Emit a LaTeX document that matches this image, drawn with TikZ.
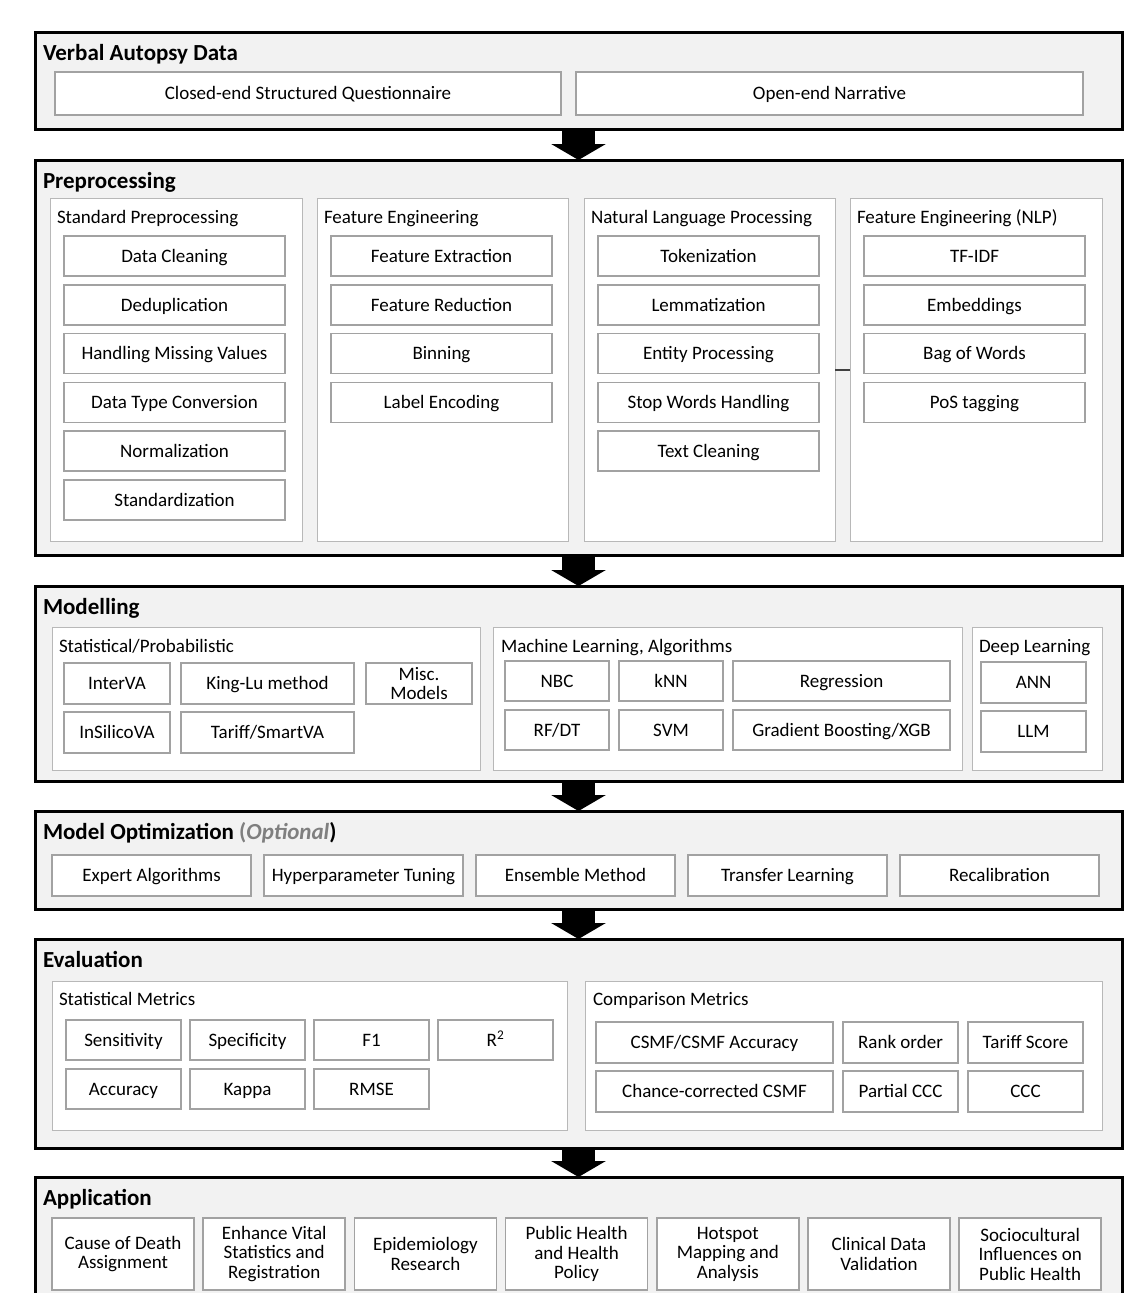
\documentclass[tikz,border=0pt]{standalone}
\usepackage{fontspec}
\setmainfont{Carlito}
\usetikzlibrary{arrows.meta}
\definecolor{stagefill}{HTML}{F2F2F2}
\definecolor{groupline}{HTML}{B8B8B8}
\definecolor{itemline}{HTML}{A2A2A2}
\definecolor{optgray}{HTML}{7F7F7F}
\definecolor{linkgray}{HTML}{404040}

\begin{document}
\begin{tikzpicture} [
  x=1pt, y=-1pt,
  every node/.style={inner sep=0pt, outer sep=0pt},
  stage/.style={draw=black, line width=3pt, fill=stagefill, anchor=north west, minimum width=1087pt},
  stagetitle/.style={anchor=base west, font=\fontsize{23}{24}\selectfont\bfseries},
  group/.style={draw=groupline, line width=1pt, fill=white, anchor=north west},
  grouptitle/.style={anchor=base west, font=\fontsize{19}{20}\selectfont},
  box/.style={draw=itemline, line width=1.5pt, fill=white, anchor=north west, align=center, font=\fontsize{19}{19.5}\selectfont},
  item/.style={box, text height=12.4pt, text depth=0pt},
  flow/.style={line width=33pt, -{Triangle[length=16pt,width=54pt]}}
  ]
  \fill[white] (0,0) rectangle (1127,1293);
  \useasboundingbox (0,0) rectangle (1127,1293);

  % stages
  \node (va)  [stage, minimum height=97pt]  at (35,32) {};
  \node (pre) [stage, minimum height=395pt] at (35,160) {};
  \node (mod) [stage, minimum height=195pt] at (35,586) {};
  \node (opt) [stage, minimum height=98pt]  at (35,811) {};
  \node (ev)  [stage, minimum height=209pt] at (35,939) {};
  \node (app) [stage, minimum height=133pt] at (35,1177) {};

  \node (va title)  [stagetitle] at ([shift={(8,28)}]va.north west) {Verbal Autopsy Data};
  \node (pre title) [stagetitle] at ([shift={(8,28)}]pre.north west) {Preprocessing};
  \node (mod title) [stagetitle] at ([shift={(8,28)}]mod.north west) {Modelling};
  \node (opt title) [stagetitle] at ([shift={(8,28)}]opt.north west) {Model Optimization \textcolor{optgray}{(\textit{Optional}})};
  \node (ev title)  [stagetitle] at ([shift={(8,28)}]ev.north west) {Evaluation};
  \node (app title) [stagetitle] at ([shift={(8,28)}]app.north west) {Application};

  \draw[flow] (va.south) -- (pre.north);
  \draw[flow] (pre.south) -- (mod.north);
  \draw[flow] (mod.south) -- (opt.north);
  \draw[flow] (opt.south) -- (ev.north);
  \draw[flow] (ev.south) -- (app.north);

  % verbal autopsy data
  \node (closed) [item, minimum width=506pt, minimum height=43pt] at (55,72) {Closed-end Structured Questionnaire};
  \node (open)   [item, minimum width=507pt, minimum height=43pt] at (576,72) {Open-end Narrative};

  % preprocessing
  \node (sp)  [group, minimum width=252pt, minimum height=343pt] at (50,198) {};
  \node (fe)  [group, minimum width=251pt, minimum height=343pt] at (317,198) {};
  \node (nlp) [group, minimum width=251pt, minimum height=343pt] at (584,198) {};
  \node (fen) [group, minimum width=252pt, minimum height=343pt] at (850,198) {};
  \node (sp title)  [grouptitle] at ([shift={(7,25)}]sp.north west) {Standard Preprocessing};
  \node (fe title)  [grouptitle] at ([shift={(7,25)}]fe.north west) {Feature Engineering};
  \node (nlp title) [grouptitle] at ([shift={(7,25)}]nlp.north west) {Natural Language Processing};
  \node (fen title) [grouptitle] at ([shift={(7,25)}]fen.north west) {Feature Engineering (NLP)};
  \draw[linkgray, line width=2pt] (nlp.east) -- (fen.west);

  \foreach \t [count=\i] in {Data Cleaning, Deduplication, Handling Missing Values,
      Data Type Conversion, Normalization, Standardization}
    \node (sp\i) [item, minimum width=221pt, minimum height=40pt] at (64,{236+48.8*(\i-1)}) {\t};
  \foreach \t [count=\i] in {Feature Extraction, Feature Reduction, Binning, Label Encoding}
    \node (fe\i) [item, minimum width=221pt, minimum height=40pt] at (331,{236+48.8*(\i-1)}) {\t};
  \foreach \t [count=\i] in {Tokenization, Lemmatization, Entity Processing,
      Stop Words Handling, Text Cleaning}
    \node (nlp\i) [item, minimum width=221pt, minimum height=40pt] at (598,{236+48.8*(\i-1)}) {\t};
  \foreach \t [count=\i] in {TF-IDF, Embeddings, Bag of Words, PoS tagging}
    \node (fen\i) [item, minimum width=221pt, minimum height=40pt] at (864,{236+48.8*(\i-1)}) {\t};

  % modelling
  \node (stat) [group, minimum width=428pt, minimum height=143pt] at (52,627) {};
  \node (ml)   [group, minimum width=469pt, minimum height=143pt] at (493,627) {};
  \node (dl)   [group, minimum width=130pt, minimum height=143pt] at (972,627) {};
  \node (stat title) [grouptitle] at ([shift={(7,25)}]stat.north west) {Statistical/Probabilistic};
  \node (ml title)   [grouptitle] at ([shift={(8,25)}]ml.north west) {Machine Learning, Algorithms};
  \node (dl title)   [grouptitle] at ([shift={(7,25)}]dl.north west) {Deep Learning};

  \node (interva)  [item, minimum width=106pt, minimum height=41pt] at (64,663) {InterVA};
  \node (kinglu)   [item, minimum width=173pt, minimum height=41pt] at (181,663) {King-Lu method};
  \node (misc)     [box, minimum width=106pt, minimum height=41pt] at (366,663) {Misc.\\Models};
  \node (insilico) [item, minimum width=106pt, minimum height=41pt] at (64,712) {InSilicoVA};
  \node (tariff)   [item, minimum width=173pt, minimum height=41pt] at (181,712) {Tariff/SmartVA};

  \node (nbc) [item, minimum width=104pt, minimum height=40pt] at (505,661) {NBC};
  \node (knn) [item, minimum width=104pt, minimum height=40pt] at (619,661) {kNN};
  \node (reg) [item, minimum width=217pt, minimum height=40pt] at (733,661) {Regression};
  \node (rf)  [item, minimum width=104pt, minimum height=40pt] at (505,710) {RF/DT};
  \node (svm) [item, minimum width=104pt, minimum height=40pt] at (619,710) {SVM};
  \node (xgb) [item, minimum width=217pt, minimum height=40pt] at (733,710) {Gradient Boosting/XGB};

  \node (ann) [item, minimum width=105pt, minimum height=41pt] at (981,662) {ANN};
  \node (llm) [item, minimum width=105pt, minimum height=41pt] at (981,711) {LLM};

  % model optimization
  \foreach \t [count=\i] in {Expert Algorithms, Hyperparameter Tuning, Ensemble Method,
      Transfer Learning, Recalibration}
    \node (opt\i) [item, minimum width=199pt, minimum height=41pt] at ({52+212*(\i-1)},855) {\t};

  % evaluation
  \node (sm) [group, minimum width=515pt, minimum height=149pt] at (52,981) {};
  \node (cm) [group, minimum width=517pt, minimum height=149pt] at (585,981) {};
  \node (sm title) [grouptitle] at ([shift={(7,24)}]sm.north west) {Statistical Metrics};
  \node (cm title) [grouptitle] at ([shift={(8,24)}]cm.north west) {Comparison Metrics};

  \foreach \t [count=\i] in {Sensitivity, Specificity, F1, R\textsuperscript{2}}
    \node (sm\i) [item, minimum width=115pt, minimum height=40pt] at ({66+124*(\i-1)},1020) {\t};
  \foreach \t [count=\i] in {Accuracy, Kappa, RMSE}
    \node (smb\i) [item, minimum width=115pt, minimum height=40pt] at ({66+124*(\i-1)},1069) {\t};

  \node (csmf)  [item, minimum width=237pt, minimum height=41pt] at (596,1022) {CSMF/CSMF Accuracy};
  \node (rank)  [item, minimum width=115pt, minimum height=41pt] at (843,1022) {Rank order};
  \node (tscore)[item, minimum width=115pt, minimum height=41pt] at (968,1022) {Tariff Score};
  \node (cccsmf)[item, minimum width=237pt, minimum height=41pt] at (596,1071) {Chance-corrected CSMF};
  \node (pccc)  [item, minimum width=115pt, minimum height=41pt] at (843,1071) {Partial CCC};
  \node (ccc)   [item, minimum width=115pt, minimum height=41pt] at (968,1071) {CCC};

  % application
  \foreach \t [count=\i] in {Cause of Death\\Assignment, Enhance Vital\\Statistics and\\Registration,
      Epidemiology\\Research, Public Health\\and Health\\Policy, Hotspot\\Mapping and\\Analysis,
      Clinical Data\\Validation, Sociocultural\\Influences on\\Public Health}
    \node (app\i) [box, minimum width=142pt, minimum height=72pt] at ({52+151.2*(\i-1)},1218) {\t};
\end{tikzpicture}
\end{document}
